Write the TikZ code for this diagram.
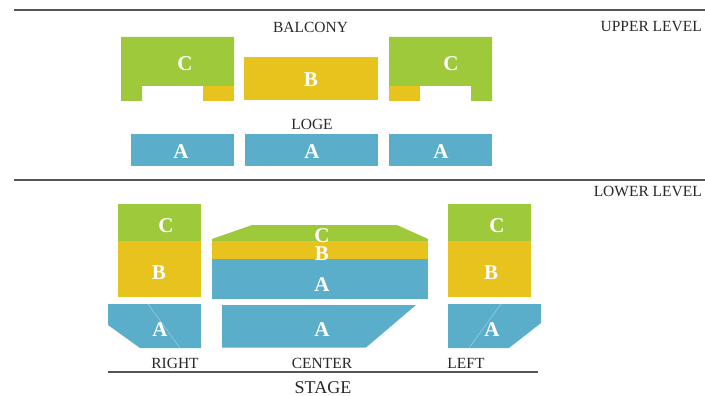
\documentclass[tikz,border=0pt]{standalone}
\usepackage{fontspec}
\setmainfont{Liberation Serif}
\definecolor{cgreen}{RGB}{157,201,59}
\definecolor{cyellow}{RGB}{232,195,30}
\definecolor{cblue}{RGB}{90,174,201}
\definecolor{clight}{RGB}{160,208,226}
\definecolor{cline}{RGB}{85,85,85}
\definecolor{ctext}{RGB}{40,40,40}
\begin{document}
\begin{tikzpicture}[x=1pt,y=-1pt,
  seat/.style={text=white,font=\fontsize{21}{21}\selectfont\bfseries,inner sep=0pt,anchor=center,yshift=-1.5pt},
  lbl/.style={text=ctext,font=\fontsize{15.5}{16}\selectfont,inner sep=0pt,anchor=base},
  rule/.style={draw=cline,line width=1.1pt}]
\useasboundingbox (0,0) rectangle (705,396);
% level lines
\coordinate (u1) at (14,10); \coordinate (u2) at (705,10);
\coordinate (l1) at (14,180); \coordinate (l2) at (705,180);
\coordinate (s1) at (108,372); \coordinate (s2) at (538,372);
\draw[rule] (u1) -- (u2);
\draw[rule] (l1) -- (l2);
\draw[rule] (s1) -- (s2);
% upper level
\fill[cgreen] (121,37) -- (234,37) -- (234,86) -- (142,86) -- (142,101) -- (121,101) -- cycle;
\fill[cyellow] (203,86) rectangle (234,101);
\fill[cgreen] (389,37) -- (492,37) -- (492,101) -- (471,101) -- (471,86) -- (389,86) -- cycle;
\fill[cyellow] (389,86) rectangle (420,101);
\fill[cyellow] (244,57) rectangle (378,100);
\fill[cblue] (131,134) rectangle (234,166);
\fill[cblue] (245,134) rectangle (378,166);
\fill[cblue] (389,134) rectangle (492,166);
% lower left
\fill[cgreen] (118,204) rectangle (201,241);
\fill[cyellow] (118,241) rectangle (201,297);
\fill[cblue] (108,304) -- (201,304) -- (201,348) -- (140,348) -- (108,325) -- cycle;
\draw[clight,line width=0.5pt] (148,304) -- (180,348);
% center
\fill[cgreen] (212,241) -- (212,239) -- (252,225) -- (397,225) -- (428,239) -- (428,241) -- cycle;
\fill[cyellow] (212,241) rectangle (428,258.5);
\fill[cblue] (212,258.5) rectangle (428,299);
\fill[cblue] (222,305) -- (416,305) -- (366,347.5) -- (222,347.5) -- cycle;
% lower right
\fill[cgreen] (448,204) rectangle (531,241);
\fill[cyellow] (448,241) rectangle (531,297);
\fill[cblue] (448,304) -- (541,304) -- (541,323) -- (509,348) -- (448,348) -- cycle;
\draw[clight,line width=0.5pt] (501,304) -- (469,348);
% seat letters
\node[seat] (uc1) at (185,62) {C};
\node[seat] (ub) at (311,78) {B};
\node[seat] (uc2) at (451,62) {C};
\node[seat] (la1) at (181,150) {A};
\node[seat] (la2) at (312,150) {A};
\node[seat] (la3) at (441,150) {A};
\node[seat] (rc) at (166,224) {C};
\node[seat] (rb) at (159,271) {B};
\node[seat] (ra) at (160,328) {A};
\node[seat] (cc) at (322,234) {C};
\node[seat] (cb) at (322,252) {B};
\node[seat] (ca) at (322,283) {A};
\node[seat] (ca2) at (322,328) {A};
\node[seat] (lc) at (497,224) {C};
\node[seat] (lb) at (491,271) {B};
\node[seat] (la) at (492,328) {A};
% labels
\node[lbl] (balcony) at (310.5,33) {BALCONY};
\node[lbl,anchor=base east] (upper) at (702,31.5) {UPPER LEVEL};
\node[lbl] (loge) at (312,129) {LOGE};
\node[lbl,anchor=base east] (lower) at (702,196) {LOWER LEVEL};
\node[lbl] (right) at (175,368) {RIGHT};
\node[lbl] (center) at (322,368) {CENTER};
\node[lbl] (left) at (466,368) {LEFT};
\node[lbl,font=\fontsize{18}{19}\selectfont] (stage) at (323,393.5) {STAGE};
\end{tikzpicture}
\end{document}
